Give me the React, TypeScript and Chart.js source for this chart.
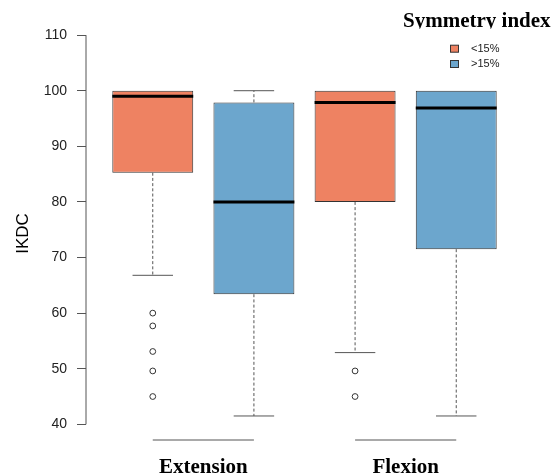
import React, { useEffect, useRef } from 'react';
import { Chart, registerables } from 'chart.js';

Chart.register(...registerables);

// ---------- data ----------
const groupLabels = ['Extension', 'Flexion'];
const groupStart = [1, 3];
const groupEnd = [2, 4];
const legendTitle = 'Symmetry index';
const legendLabels = ['<15%', '>15%'];
const legendColors = ['#EE8262', '#6CA6CD'];
const yTitle = 'IKDC';

const boxPositions = [1, 2, 3, 4];
const boxSeries = [0, 1, 0, 1];
const lowerQuartile = [85.25, 63.4, 80.0, 71.5];
const medianValues = [99.0, 80.0, 97.9, 96.9];
const upperQuartile = [100, 97.9, 100, 100];
const lowerWhisker = [66.8, 41.5, 52.9, 41.5];
const upperWhisker = [100, 100, 100, 100];
const outliersBox1 = [60.0, 57.7, 53.1, 49.6, 45.0];
const outliersBox2: number[] = [];
const outliersBox3 = [49.6, 45.0];
const outliersBox4: number[] = [];
const yTickValues = [40, 50, 60, 70, 80, 90, 100, 110];

// ---------- layout / style ----------
const W = 554;
const H = 473;
const X_MIN = 0.34;
const X_MAX = 4.66;
const Y_MIN = 37.18;
const Y_MAX = 111.46;
const BOX_HALF = 0.4;
const CAP_HALF = 0.2;
const LINE_GRAY = '#555555';
const BORDER_DARK = '#333333';

const outliers = [outliersBox1, outliersBox2, outliersBox3, outliersBox4];

function buildDatasets() {
  const medianPts: any[] = [];
  boxPositions.forEach((p, i) => {
    medianPts.push({ x: p - BOX_HALF, y: medianValues[i] });
    medianPts.push({ x: p + BOX_HALF, y: medianValues[i] });
    medianPts.push({ x: p, y: null });
  });

  const whiskerPts: any[] = [];
  const capPts: any[] = [];
  const addCap = (p: number, v: number) => {
    capPts.push({ x: p - CAP_HALF, y: v });
    capPts.push({ x: p + CAP_HALF, y: v });
    capPts.push({ x: p, y: null });
  };
  boxPositions.forEach((p, i) => {
    if (upperWhisker[i] > upperQuartile[i]) {
      whiskerPts.push({ x: p, y: upperQuartile[i] });
      whiskerPts.push({ x: p, y: upperWhisker[i] });
      whiskerPts.push({ x: p, y: null });
      addCap(p, upperWhisker[i]);
    }
    if (lowerWhisker[i] < lowerQuartile[i]) {
      whiskerPts.push({ x: p, y: lowerQuartile[i] });
      whiskerPts.push({ x: p, y: lowerWhisker[i] });
      whiskerPts.push({ x: p, y: null });
      addCap(p, lowerWhisker[i]);
    }
  });

  const outlierPts: any[] = [];
  boxPositions.forEach((p, i) => {
    outliers[i].forEach((v) => outlierPts.push({ x: p, y: v }));
  });

  const bracketPts: any[] = [];
  groupStart.forEach((s, g) => {
    bracketPts.push({ x: s, y: Y_MIN });
    bracketPts.push({ x: groupEnd[g], y: Y_MIN });
    bracketPts.push({ x: s, y: null });
  });

  const axisPts = [
    { x: X_MIN, y: yTickValues[0] },
    { x: X_MIN, y: yTickValues[yTickValues.length - 1] },
  ];

  return [
    {
      type: 'line',
      label: 'median',
      data: medianPts,
      borderColor: '#000000',
      borderWidth: 3,
      borderCapStyle: 'butt',
      pointRadius: 0,
      order: 0,
      clip: false,
    },
    {
      type: 'scatter',
      label: 'outliers',
      data: outlierPts,
      pointRadius: 2.9,
      pointBorderWidth: 1,
      pointBorderColor: BORDER_DARK,
      pointBackgroundColor: '#ffffff',
      order: 1,
      clip: false,
    },
    {
      type: 'line',
      label: 'whiskers',
      data: whiskerPts,
      borderColor: LINE_GRAY,
      borderWidth: 1,
      borderDash: [3, 2.2],
      pointRadius: 0,
      order: 2,
      clip: false,
    },
    {
      type: 'bar',
      label: 'boxes',
      data: boxPositions.map((p, i) => ({ x: p, y: [lowerQuartile[i], upperQuartile[i]] })),
      backgroundColor: boxSeries.map((s) => legendColors[s]),
      borderColor: BORDER_DARK,
      borderWidth: 1,
      borderSkipped: false,
      categoryPercentage: 1,
      barPercentage: 0.8,
      order: 3,
    },
    {
      type: 'line',
      label: 'caps',
      data: capPts,
      borderColor: LINE_GRAY,
      borderWidth: 1,
      pointRadius: 0,
      order: 4,
      clip: false,
    },
    {
      type: 'line',
      label: 'brackets',
      data: bracketPts,
      borderColor: LINE_GRAY,
      borderWidth: 1,
      pointRadius: 0,
      order: 5,
      clip: false,
    },
    {
      type: 'line',
      label: 'yaxis',
      data: axisPts,
      borderColor: LINE_GRAY,
      borderWidth: 1,
      pointRadius: 0,
      order: 6,
      clip: false,
    },
  ];
}

const legendPlugin = {
  id: 'boxLegend',
  afterDraw(chart: any) {
    const ctx = chart.ctx;
    ctx.save();
    ctx.beginPath();
    ctx.rect(0, 0, W, 28.5);
    ctx.clip();
    ctx.fillStyle = '#000000';
    ctx.font = 'bold 21px "Liberation Serif", serif';
    ctx.textBaseline = 'alphabetic';
    ctx.textAlign = 'left';
    ctx.fillText(legendTitle, 403, 27);
    ctx.restore();

    ctx.save();
    legendLabels.forEach((lab, i) => {
      const cy = 48.7 + i * 15.3;
      ctx.fillStyle = legendColors[i];
      ctx.fillRect(450.5, cy - 3.5, 8, 7);
      ctx.strokeStyle = BORDER_DARK;
      ctx.lineWidth = 1;
      ctx.strokeRect(450.5, cy - 3.5, 8, 7);
      ctx.fillStyle = '#222222';
      ctx.font = '11px "Liberation Sans", Arial, sans-serif';
      ctx.textBaseline = 'middle';
      ctx.textAlign = 'left';
      ctx.fillText(lab, 471, cy);
    });
    ctx.restore();
  },
};

export default function App() {
  const canvasRef = useRef<HTMLCanvasElement | null>(null);

  useEffect(() => {
    if (!canvasRef.current) return;
    const groupCenters = groupStart.map((s, g) => (s + groupEnd[g]) / 2);
    const chart = new Chart(canvasRef.current, {
      type: 'bar',
      data: { datasets: buildDatasets() as any },
      options: {
        animation: false,
        responsive: false,
        events: [],
        layout: {
          autoPadding: false,
          padding: { left: 0, right: W - 523, top: 27, bottom: 0 },
        },
        plugins: {
          legend: { display: false },
          tooltip: { enabled: false },
          title: { display: false },
        },
        scales: {
          x: {
            type: 'linear',
            min: X_MIN,
            max: X_MAX,
            offset: false,
            grid: { display: false, drawTicks: false, offset: false },
            border: { display: false },
            afterBuildTicks: (axis: any) => {
              axis.ticks = groupCenters.map((v) => ({ value: v }));
            },
            afterFit: (axis: any) => {
              axis.height = H - 440;
            },
            ticks: {
              autoSkip: false,
              maxRotation: 0,
              minRotation: 0,
              padding: 14.5,
              color: '#000000',
              font: { family: '"Liberation Serif", serif', size: 21, weight: 'bold', lineHeight: 1.2 },
              callback: (value: any) => {
                const idx = groupCenters.findIndex((c) => Math.abs(c - Number(value)) < 1e-6);
                return idx >= 0 ? groupLabels[idx] : '';
              },
            },
          },
          y: {
            type: 'linear',
            min: Y_MIN,
            max: Y_MAX,
            beginAtZero: false,
            grid: {
              display: true,
              drawOnChartArea: false,
              drawTicks: true,
              tickLength: 9,
              color: LINE_GRAY,
              lineWidth: 1,
            },
            border: { display: false },
            afterBuildTicks: (axis: any) => {
              axis.ticks = yTickValues.map((v) => ({ value: v }));
            },
            afterFit: (axis: any) => {
              axis.width = 86;
            },
            ticks: {
              padding: 10,
              color: '#222222',
              font: { family: '"Liberation Sans", Arial, sans-serif', size: 14 },
              callback: (value: any) => String(value),
            },
            title: {
              display: true,
              text: yTitle,
              color: '#000000',
              font: { family: '"Liberation Sans", Arial, sans-serif', size: 17, lineHeight: 1.2 },
              padding: { top: 12.8, bottom: 0 },
            },
          },
        },
      },
      plugins: [legendPlugin],
    } as any);
    return () => chart.destroy();
  }, []);

  return (
    <div style={{ position: 'absolute', left: 0, top: 0, width: W, height: H, background: '#ffffff' }}>
      <canvas ref={canvasRef} width={W} height={H} style={{ display: 'block' }} />
    </div>
  );
}
